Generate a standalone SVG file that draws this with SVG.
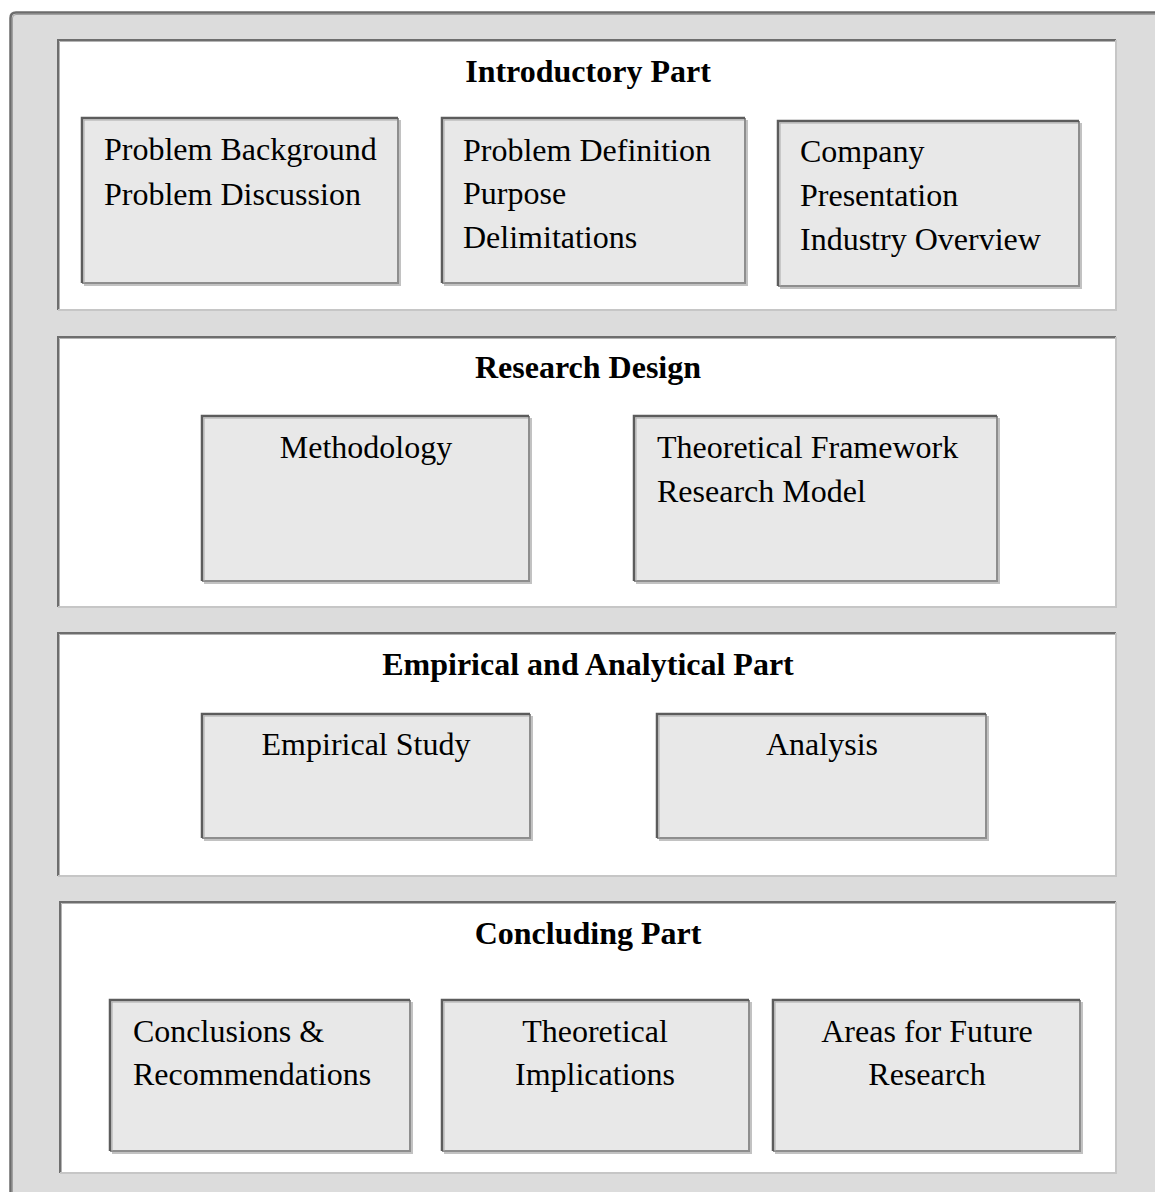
<svg xmlns="http://www.w3.org/2000/svg" width="1155" height="1192" viewBox="0 0 1155 1192">
  <style>
    text { font-family: "Liberation Serif", "Times New Roman", serif; font-size: 32px; fill: #000; }
    .title { font-weight: bold; text-anchor: middle; }
    .mid { text-anchor: middle; }
    .frame { fill: #dcdcdc; }
    .panel { fill: #ffffff; }
    .panel-hi { fill: none; stroke: #6e6e6e; stroke-width: 2; }
    .panel-hi2 { fill: none; stroke: #b4b4b4; stroke-width: 1; }
    .panel-lo { fill: none; stroke: #c6c6c6; stroke-width: 2; }
    .box { fill: #e8e8e8; }
    .box-hi { fill: none; stroke: #5c5c5c; stroke-width: 2.5; }
    .box-hi2 { fill: none; stroke: #a8a8a8; stroke-width: 1; }
    .box-lo { fill: none; stroke: #8e8e8e; stroke-width: 2; }
    .box-sh { fill: none; stroke: #c2c2c2; stroke-width: 2; }
  </style>

  <!-- outer frame with rounded top-left corner -->
  <g id="frame">
    <path class="frame" d="M10,1192 V18 Q10,12 16,12 H1155 V1192 Z"/>
    <path fill="none" stroke="#6c6c6c" stroke-width="2.5" d="M10.5,1192 V18 Q10.5,12.5 16,12.5 H1155"/>
    <path fill="none" stroke="#a0a0a0" stroke-width="1" d="M12.5,1192 V18 Q12.5,14.5 16,14.5 H1155"/>
  </g>

  <!-- section panels -->
  <g id="panel-intro">
    <rect class="panel" x="57" y="39" width="1059" height="271"/>
    <path class="panel-hi" d="M58,310 V40 H1116"/>
    <path class="panel-hi2" d="M59.5,310 V41.5 H1115"/>
    <path class="panel-lo" d="M1116,40 V310 H58"/>
    <text class="title" x="588" y="82">Introductory Part</text>
  </g>

  <g id="panel-design">
    <rect class="panel" x="57" y="336" width="1059" height="271"/>
    <path class="panel-hi" d="M58,607 V337 H1116"/>
    <path class="panel-hi2" d="M59.5,607 V338.5 H1115"/>
    <path class="panel-lo" d="M1116,337 V607 H58"/>
    <text class="title" x="588" y="378">Research Design</text>
  </g>

  <g id="panel-empirical">
    <rect class="panel" x="57" y="632" width="1059" height="244"/>
    <path class="panel-hi" d="M58,876 V633 H1116"/>
    <path class="panel-hi2" d="M59.5,876 V634.5 H1115"/>
    <path class="panel-lo" d="M1116,633 V876 H58"/>
    <text class="title" x="588" y="675">Empirical and Analytical Part</text>
  </g>

  <g id="panel-concluding">
    <rect class="panel" x="59" y="901" width="1057" height="272"/>
    <path class="panel-hi" d="M60,1173 V902 H1116"/>
    <path class="panel-hi2" d="M61.5,1173 V903.5 H1115"/>
    <path class="panel-lo" d="M1116,902 V1173 H60"/>
    <text class="title" x="588" y="944">Concluding Part</text>
  </g>

  <!-- content boxes -->
  <g id="box-background">
    <rect class="box" x="81" y="117" width="317" height="166"/>
    <path class="box-sh" d="M400,120 V285 H84"/>
    <path class="box-lo" d="M398,118 V283 H82"/>
    <path class="box-hi" d="M82,283 V118 H398"/>
    <path class="box-hi2" d="M84,283 V120 H397"/>
    <text x="104" y="160">Problem Background</text>
    <text x="104" y="205">Problem Discussion</text>
  </g>

  <g id="box-definition">
    <rect class="box" x="441" y="117" width="304" height="166"/>
    <path class="box-sh" d="M747,120 V285 H444"/>
    <path class="box-lo" d="M745,118 V283 H442"/>
    <path class="box-hi" d="M442,283 V118 H745"/>
    <path class="box-hi2" d="M444,283 V120 H744"/>
    <text x="463" y="161">Problem Definition</text>
    <text x="463" y="204">Purpose</text>
    <text x="463" y="248">Delimitations</text>
  </g>

  <g id="box-company">
    <rect class="box" x="777" y="120" width="302" height="166"/>
    <path class="box-sh" d="M1081,123 V288 H780"/>
    <path class="box-lo" d="M1079,121 V286 H778"/>
    <path class="box-hi" d="M778,286 V121 H1079"/>
    <path class="box-hi2" d="M780,286 V123 H1078"/>
    <text x="800" y="162">Company</text>
    <text x="800" y="206">Presentation</text>
    <text x="800" y="250">Industry Overview</text>
  </g>

  <g id="box-methodology">
    <rect class="box" x="201" y="415" width="328" height="166"/>
    <path class="box-sh" d="M531,418 V583 H204"/>
    <path class="box-lo" d="M529,416 V581 H202"/>
    <path class="box-hi" d="M202,581 V416 H529"/>
    <path class="box-hi2" d="M204,581 V418 H528"/>
    <text class="mid" x="366" y="458">Methodology</text>
  </g>

  <g id="box-framework">
    <rect class="box" x="633" y="415" width="364" height="166"/>
    <path class="box-sh" d="M999,418 V583 H636"/>
    <path class="box-lo" d="M997,416 V581 H634"/>
    <path class="box-hi" d="M634,581 V416 H997"/>
    <path class="box-hi2" d="M636,581 V418 H996"/>
    <text x="657" y="458">Theoretical Framework</text>
    <text x="657" y="502">Research Model</text>
  </g>

  <g id="box-empirical-study">
    <rect class="box" x="201" y="713" width="329" height="125"/>
    <path class="box-sh" d="M532,716 V840 H204"/>
    <path class="box-lo" d="M530,714 V838 H202"/>
    <path class="box-hi" d="M202,838 V714 H530"/>
    <path class="box-hi2" d="M204,838 V716 H529"/>
    <text class="mid" x="366" y="755">Empirical Study</text>
  </g>

  <g id="box-analysis">
    <rect class="box" x="656" y="713" width="330" height="125"/>
    <path class="box-sh" d="M988,716 V840 H659"/>
    <path class="box-lo" d="M986,714 V838 H657"/>
    <path class="box-hi" d="M657,838 V714 H986"/>
    <path class="box-hi2" d="M659,838 V716 H985"/>
    <text class="mid" x="822" y="755">Analysis</text>
  </g>

  <g id="box-conclusions">
    <rect class="box" x="109" y="999" width="301" height="152"/>
    <path class="box-sh" d="M412,1002 V1153 H112"/>
    <path class="box-lo" d="M410,1000 V1151 H110"/>
    <path class="box-hi" d="M110,1151 V1000 H410"/>
    <path class="box-hi2" d="M112,1151 V1002 H409"/>
    <text x="133" y="1042">Conclusions &amp;</text>
    <text x="133" y="1085">Recommendations</text>
  </g>

  <g id="box-implications">
    <rect class="box" x="441" y="999" width="308" height="152"/>
    <path class="box-sh" d="M751,1002 V1153 H444"/>
    <path class="box-lo" d="M749,1000 V1151 H442"/>
    <path class="box-hi" d="M442,1151 V1000 H749"/>
    <path class="box-hi2" d="M444,1151 V1002 H748"/>
    <text class="mid" x="595" y="1042">Theoretical</text>
    <text class="mid" x="595" y="1085">Implications</text>
  </g>

  <g id="box-future">
    <rect class="box" x="772" y="999" width="308" height="152"/>
    <path class="box-sh" d="M1082,1002 V1153 H775"/>
    <path class="box-lo" d="M1080,1000 V1151 H773"/>
    <path class="box-hi" d="M773,1151 V1000 H1080"/>
    <path class="box-hi2" d="M775,1151 V1002 H1079"/>
    <text class="mid" x="927" y="1042">Areas for Future</text>
    <text class="mid" x="927" y="1085">Research</text>
  </g>

  <!-- this layout has no connectors -->
  <g id="connectors"/>
</svg>
